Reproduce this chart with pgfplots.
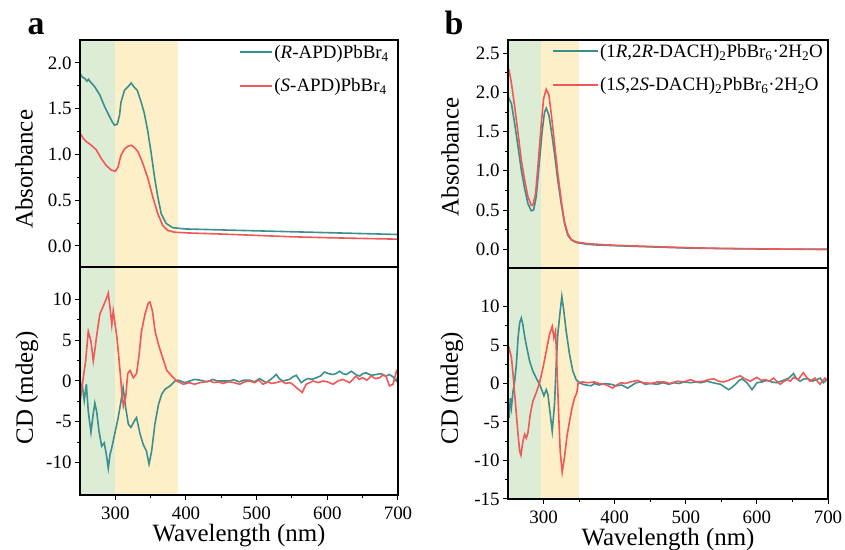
\documentclass[border=0pt]{standalone}
\usepackage{pgfplots}
\pgfplotsset{compat=1.18}
\usepackage{fontspec}
\setmainfont{Liberation Serif}
\definecolor{teal1}{RGB}{58,143,143}
\definecolor{red1}{RGB}{240,88,88}
\definecolor{bandgreen}{RGB}{221,237,213}
\definecolor{bandyellow}{RGB}{253,240,201}
\pgfplotsset{
  myax/.style={scale only axis, xmin=250, xmax=700, axis on top, tick align=outside,
    ytick pos=left, xtick pos=bottom,
    axis line style={line width=1.2bp}, major tick length=5bp, minor tick length=3bp,
    every tick/.style={black, line width=1bp},
    tick label style={font=\fontsize{19}{19}\selectfont},
    /pgf/number format/assume math mode=true,
    minor y tick num=1},
  topax/.style={myax, xtick=\empty,
    yticklabel style={/pgf/number format/.cd, fixed, fixed zerofill, precision=1}},
  botax/.style={myax, xtick={300,400,500,600,700}, minor x tick num=1,
    xticklabel style={yshift=-3bp},
    xlabel={Wavelength (nm)},
    every axis x label/.style={at={(axis description cs:0.5,0)}, anchor=base, yshift=-46bp, font=\fontsize{25}{25}\selectfont}},
  tl/.style={teal1, line width=1.6bp},
  rl/.style={red1, line width=1.6bp},
}
\begin{document}
\begin{tikzpicture}
\useasboundingbox (0,0) rectangle (845bp,550bp);
\node[anchor=base west, font=\fontsize{34}{34}\selectfont\bfseries] at (24bp,515bp) {a};
\node[anchor=base west, font=\fontsize{34}{34}\selectfont\bfseries] at (441bp,515bp) {b};
% ---------- panel a, absorbance
\begin{axis}[topax, at={(80bp,283bp)}, anchor=south west, width=318bp, height=227bp,
  ymin=-0.23, ymax=2.25, ytick={0,0.5,1,1.5,2},
  ylabel={Absorbance},
  every axis y label/.style={at={(axis description cs:-0.176,0.43)}, rotate=90, anchor=center, font=\fontsize{25}{25}\selectfont},
  legend cell align=left,
  legend style={draw=none, fill=none, font=\fontsize{19}{19}\selectfont, at={(1,1)}, anchor=north east, xshift=-4bp, yshift=-1bp, row sep=15bp},
  legend image code/.code={\fill[#1, draw=none] (0bp,-1bp) rectangle (32bp,1bp);}]
\addplot[fill=bandgreen, draw=none, forget plot] coordinates {(250,-1) (300,-1) (300,3) (250,3)} -- cycle;
\addplot[fill=bandyellow, draw=none, forget plot] coordinates {(300,-1) (389,-1) (389,3) (300,3)} -- cycle;
\addplot[tl] coordinates {(250,1.86) (251,1.87) (254,1.84) (256.6,1.83) (260,1.80) (262,1.82) (265,1.79) (270.7,1.74) (274,1.70) (278,1.65) (285,1.52) (292,1.41) (296,1.35) (299,1.32) (302.7,1.33) (306,1.43) (308,1.57) (313,1.70) (318,1.74) (322.5,1.78) (326,1.74) (331,1.70) (336.6,1.57) (341,1.45) (346,1.25) (350.8,1.01) (355.5,0.75) (360,0.54) (365,0.35) (372,0.245) (381,0.20) (398,0.186) (450,0.175) (500,0.165) (550,0.155) (600,0.145) (650,0.135) (700,0.125)};
\addlegendentry{(\textit{R}-APD)PbBr\textsubscript{4}}
\addplot[rl] coordinates {(250,1.23) (251,1.22) (255,1.17) (259,1.14) (266,1.10) (273,1.05) (280,0.955) (287,0.88) (294,0.83) (300,0.815) (303.7,0.86) (308,0.99) (313,1.06) (318,1.09) (322.5,1.10) (327,1.075) (332,1.03) (339,0.90) (346,0.74) (353,0.535) (360,0.355) (367,0.225) (374,0.17) (383.7,0.15) (402.5,0.142) (450,0.13) (500,0.115) (550,0.10) (600,0.09) (650,0.082) (700,0.074)};
\addlegendentry{(\textit{S}-APD)PbBr\textsubscript{4}}
\end{axis}
% ---------- panel a, CD
\begin{axis}[botax, at={(80bp,55bp)}, anchor=south west, width=318bp, height=228bp,
  ymin=-14, ymax=14, ytick={-10,-5,0,5,10},
  ylabel={CD (mdeg)},
  every axis y label/.style={at={(axis description cs:-0.167,0.47)}, rotate=90, anchor=center, font=\fontsize{25}{25}\selectfont}]
\addplot[fill=bandgreen, draw=none, forget plot] coordinates {(250,-20) (300,-20) (300,20) (250,20)} -- cycle;
\addplot[fill=bandyellow, draw=none, forget plot] coordinates {(300,-20) (389,-20) (389,20) (300,20)} -- cycle;
\addplot[tl] coordinates {(250,-0.5) (251,-1.2) (253,-0.4) (256,-2.4) (259,-0.4) (261.7,-3.7) (265.5,-6.3) (268.8,-4.0) (271,-2.7) (273.5,-3.7) (276.8,-6.1) (280.6,-8.0) (284.3,-7.6) (287.6,-9.2) (290,-10.7) (292.5,-9.0) (295,-8.2) (299.6,-6.3) (304,-4.5) (308,-2.5) (311,-0.8) (314.7,-3.3) (318.4,-5.3) (322,-5.7) (327,-4.9) (330,-4.5) (335,-6.5) (339.5,-7.8) (344,-8.6) (347.7,-10.2) (351.4,-8.6) (356,-5.3) (361,-2.9) (365.7,-1.6) (370.4,-1.0) (377.5,-0.6) (384.5,0) (389,0.1) (398.6,-0.2) (405,0) (412,0.2) (420,0.1) (430,-0.1) (438,0.2) (444,0.0) (450,0.0) (461,0) (468,0.15) (475,-0.1) (482,0.1) (490,0.1) (497,-0.1) (504,0.3) (513.5,-0.2) (520,0.2) (527.8,0.8) (532,0.3) (537,0) (546.6,0.2) (551,0.5) (556,0.7) (563,-0.2) (568,0.1) (572.6,0.3) (578,0.2) (584.4,0.4) (590,0.6) (596,1.1) (602,0.9) (608,0.8) (612,0.9) (617.5,1.2) (622,0.9) (627,0.8) (634,1.2) (640,0.8) (646,0.6) (650,0.9) (655,1.0) (662,0.7) (669,0.8) (676,0.9) (683,0.6) (688,0.8) (693,0.5) (697.7,0) (700,0.6)};
\addplot[rl] coordinates {(250,-1.5) (251,-2.0) (254.6,0.4) (258,2.45) (261.7,6.1) (265.5,4.9) (268.8,2.45) (271,3.8) (273.5,5.5) (278,8.2) (283,9.2) (287.6,10.2) (290,10.8) (292.5,9.0) (295,6.9) (297,8.6) (299.6,7.0) (302,5.5) (304,3.8) (306.6,1.3) (309,-1.2) (311.4,-3.1) (314.7,-2.0) (317.5,0.9) (320.8,1.3) (325.5,0.4) (330,0.9) (333.6,3.2) (337,6.1) (342,8.2) (346.8,9.6) (349,9.7) (352.5,8.6) (356.3,6.1) (361,4.5) (365.7,3.2) (372.8,1.3) (380,0.6) (386.9,0) (396.3,-0.4) (405,-0.2) (412,-0.4) (420,-0.2) (427,-0.1) (433,0) (440,-0.2) (446,-0.1) (452,-0.3) (460,-0.1) (468,-0.2) (476,-0.4) (483,-0.1) (490,0) (497,-0.2) (503,0.1) (509,-0.4) (516,-0.1) (521,-0.3) (527.8,-0.2) (535,0.0) (541,-0.3) (546.6,-0.2) (551,-0.4) (556,-0.8) (564.5,-1.4) (570,-0.4) (575,-0.2) (579.6,0) (587,-0.2) (593.8,0) (600,-0.1) (608,-0.4) (615,0.0) (622,0.2) (631.4,-0.2) (636,0.2) (641,0.6) (645,0.2) (650,0.4) (656,0.1) (662,0.6) (668,0.3) (674,0.4) (678,0.7) (683,0.6) (688,-0.6) (693,-0.4) (697.7,1.2) (700,0.8)};
\end{axis}
% ---------- panel b, absorbance
\begin{axis}[topax, at={(508bp,282bp)}, anchor=south west, width=320bp, height=228bp,
  ymin=-0.24, ymax=2.67, ytick={0,0.5,1,1.5,2,2.5},
  ylabel={Absorbance},
  every axis y label/.style={at={(axis description cs:-0.181,0.487)}, rotate=90, anchor=center, font=\fontsize{25}{25}\selectfont},
  legend cell align=left,
  legend style={draw=none, fill=none, font=\fontsize{19}{19}\selectfont, at={(1,1)}, anchor=north east, xshift=0bp, yshift=0bp, row sep=15bp},
  legend image code/.code={\fill[#1, draw=none] (0bp,-1bp) rectangle (45bp,1bp);}]
\addplot[fill=bandgreen, draw=none, forget plot] coordinates {(250,-1) (297,-1) (297,3) (250,3)} -- cycle;
\addplot[fill=bandyellow, draw=none, forget plot] coordinates {(297,-1) (350,-1) (350,3) (297,3)} -- cycle;
\addplot[tl] coordinates {(250,1.95) (251.5,1.92) (254.8,1.86) (259.4,1.60) (264.1,1.31) (268.7,1.01) (273.4,0.775) (278,0.58) (282.7,0.49) (286,0.50) (289.7,0.67) (293.5,1.05) (298.2,1.52) (301.4,1.75) (303.8,1.80) (307.5,1.71) (310.8,1.52) (315.4,1.22) (320,0.88) (324.8,0.58) (329.4,0.33) (334,0.18) (338.8,0.12) (345.8,0.085) (359.9,0.065) (371.5,0.055) (400,0.045) (450,0.03) (500,0.015) (550,0.008) (600,0.003) (650,0.0) (700,0.0)};
\addlegendentry{(1\textit{R},2\textit{R}-DACH)\textsubscript{2}PbBr\textsubscript{6}·2H\textsubscript{2}O}
\addplot[rl] coordinates {(250,2.30) (251.5,2.29) (254.8,2.12) (259.4,1.82) (264.1,1.48) (268.7,1.14) (273.4,0.88) (278,0.67) (282.7,0.56) (285,0.56) (288.8,0.71) (292,1.05) (296.8,1.60) (300,1.92) (303.8,2.04) (307.5,1.97) (310.8,1.73) (315.4,1.35) (320,0.97) (324.8,0.63) (329.4,0.35) (334,0.20) (338.8,0.124) (345.8,0.093) (359.9,0.073) (371.5,0.065) (400,0.05) (450,0.035) (500,0.02) (550,0.01) (600,0.005) (650,0.0) (700,-0.005)};
\addlegendentry{(1\textit{S},2\textit{S}-DACH)\textsubscript{2}PbBr\textsubscript{6}·2H\textsubscript{2}O}
\end{axis}
% ---------- panel b, CD
\begin{axis}[botax, at={(508bp,51bp)}, anchor=south west, width=320bp, height=231bp,
  ymin=-15, ymax=15, ytick={-15,-10,-5,0,5,10},
  ylabel={CD (mdeg)},
  every axis y label/.style={at={(axis description cs:-0.175,0.48)}, rotate=90, anchor=center, font=\fontsize{25}{25}\selectfont}]
\addplot[fill=bandgreen, draw=none, forget plot] coordinates {(250,-20) (297,-20) (297,20) (250,20)} -- cycle;
\addplot[fill=bandyellow, draw=none, forget plot] coordinates {(297,-20) (350,-20) (350,20) (297,20)} -- cycle;
\addplot[tl] coordinates {(250,-3) (251.5,-4.5) (253.3,-1.9) (254.8,-3.1) (257.1,-1.0) (259.4,0.3) (261.8,2.5) (264.1,5.9) (266.4,7.9) (268.7,8.5) (271,7.6) (273.4,6.1) (276.6,4.6) (280.4,2.9) (285,1.6) (289.7,0.7) (294.4,-0.1) (298.2,-1.0) (300.5,-1.6) (303.8,-0.8) (306.1,-1.4) (309.4,-4.0) (312.2,-6.2) (315.4,-2.7) (317.8,2.5) (320,6.4) (323.4,9.4) (325.7,11.3) (328,9.8) (331.8,6.8) (336.5,3.8) (341.2,1.6) (345.8,0.5) (350.5,0.1) (355,-0.1) (359.9,-0.2) (366.8,-0.3) (371.5,0) (378,-0.2) (386,0.0) (394.8,-0.1) (402,-0.3) (410,-0.2) (418.2,-0.6) (425,-0.2) (430,0.1) (436.8,0.2) (443,-0.1) (450,0.0) (460.2,-0.1) (468,0.1) (476,-0.1) (483.5,0.1) (490,0.0) (498,0.2) (506.8,0.1) (514,0.2) (521,0.1) (530,0.3) (538,0.1) (548.8,-0.1) (555,-0.5) (560.5,-0.8) (565,-0.5) (570,-0.1) (575,0.4) (579,0.6) (586,0.1) (590,-0.4) (593.1,-0.8) (597,-0.3) (600,0.1) (607,0.2) (614,0.4) (621,0.2) (628,0.1) (634,0.3) (639.8,0.5) (645,0.7) (651.4,1.3) (656,0.6) (660.8,0.3) (666,0.6) (672.4,0.6) (678,0.3) (684,0.5) (689,0.7) (693.4,0.1) (697,0.4) (700,0.7)};
\addplot[rl] coordinates {(250,5.0) (251.5,4.6) (254.8,3.4) (257.1,1.2) (259.4,-1.4) (261.8,-4.0) (264.1,-6.6) (266.4,-8.8) (268.2,-9.3) (271,-7.5) (273.4,-6.6) (275.7,-7.1) (278,-6.4) (281.3,-4.0) (285,-2.3) (289.7,-1.2) (294.4,0.1) (299.1,2.0) (303.8,4.2) (308.4,6.4) (312.2,7.4) (314.5,5.9) (316.9,6.8) (318.7,2.5) (321.1,-3.6) (323.4,-8.8) (326.2,-11.5) (329.4,-9.6) (332.7,-7.0) (336.5,-4.9) (340.2,-3.1) (343.5,-1.9) (346.8,-1.2) (348.7,0.1) (355.2,0.2) (362,0.1) (371.5,0.2) (378,0.0) (385.5,-0.1) (391,-0.3) (397,-0.6) (403,-0.2) (408.8,0.1) (415,0.0) (422,0.2) (432,0.4) (440,0.1) (450.8,0) (460,0.2) (469.5,0.2) (478,0.0) (488,0.3) (497,0.2) (506.8,0.5) (515,0.2) (525.5,0.3) (532,0.5) (539.5,0.6) (546,0.3) (553.5,0.2) (560,0.4) (567.5,0.7) (576.8,1.0) (583,0.6) (590.8,0.3) (600,0.8) (606,0.4) (611.8,0.5) (617,0.3) (623.5,0.7) (628,0.3) (632.8,-0.1) (637,0.2) (642,0.5) (647,0.3) (651.4,0.8) (658,0.5) (665.4,1.4) (670,0.8) (674.7,0.3) (681.7,0.7) (685,0.3) (688.7,-0.1) (692,0.3) (695.7,0.7) (700,0.3)};
\end{axis}
\end{tikzpicture}
\end{document}
